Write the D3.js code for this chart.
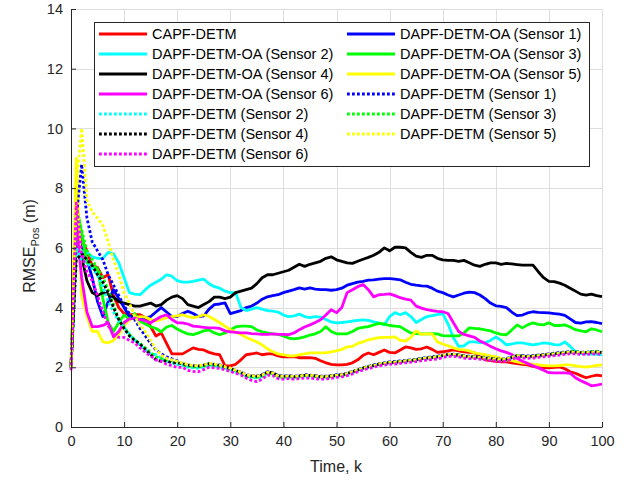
<!DOCTYPE html>
<html lang="en">
<head>
<meta charset="UTF-8">
<title>RMSE Pos</title>
<style>
  * { margin: 0; padding: 0; box-sizing: border-box; }
  body { background: #fff; width: 634px; height: 483px; overflow: hidden; }
  svg { font-family: "Liberation Sans", Arial, Helvetica, sans-serif; }
</style>
</head>
<body>
<svg id="chart" width="634" height="483"></svg>
<script src="https://cdn.jsdelivr.net/npm/d3@7"></script>
<script>
// time steps k = 0..100
const steps = d3.range(0, 101);

const xTicks = [0, 10, 20, 30, 40, 50, 60, 70, 80, 90, 100];
const yTicks = [0, 2, 4, 6, 8, 10, 12, 14];

// solid lines
const capf = [2.0, 6.5, 6.3, 5.9, 5.4, 5.35, 5.0, 5.1, 4.4, 4.0, 3.8,
  3.76, 3.76, 3.76, 3.66, 3.36, 3.05, 3.15, 2.8, 2.45, 2.45,
  2.45, 2.55, 2.65, 2.6, 2.58, 2.5, 2.45, 2.42, 2.05, 2.05,
  2.1, 2.25, 2.42, 2.45, 2.48, 2.42, 2.45, 2.45, 2.38, 2.35,
  2.35, 2.36, 2.32, 2.32, 2.32, 2.3, 2.22, 2.15, 2.1, 2.08,
  2.08, 2.1, 2.15, 2.25, 2.4, 2.48, 2.42, 2.5, 2.58, 2.5,
  2.48, 2.58, 2.68, 2.65, 2.6, 2.62, 2.68, 2.6, 2.5, 2.52,
  2.55, 2.58, 2.55, 2.52, 2.5, 2.48, 2.35, 2.25, 2.22, 2.2,
  2.18, 2.18, 2.15, 2.12, 2.1, 2.08, 2.03, 2.0, 1.99, 1.98,
  2.0, 2.01, 1.95, 1.85, 1.8, 1.72, 1.65, 1.7, 1.74, 1.71];

const oaS1 = [2.0, 6.5, 6.0, 5.6, 5.0, 4.2, 3.7, 4.2, 4.6, 4.3, 4.0,
  3.7, 3.65, 3.6, 3.65, 3.7, 3.85, 4.0, 3.85, 3.7, 3.7,
  3.8, 3.88, 3.8, 3.7, 3.72, 3.95, 4.1, 4.12, 4.16, 3.8,
  3.85, 3.9, 4.0, 4.05, 4.15, 4.28, 4.36, 4.4, 4.43, 4.5,
  4.55, 4.6, 4.66, 4.62, 4.66, 4.62, 4.6, 4.6, 4.58, 4.6,
  4.65, 4.75, 4.8, 4.85, 4.88, 4.92, 4.93, 4.95, 4.97, 4.97,
  4.95, 4.93, 4.85, 4.78, 4.75, 4.73, 4.72, 4.65, 4.55, 4.5,
  4.42, 4.36, 4.42, 4.48, 4.52, 4.5, 4.42, 4.3, 4.15, 4.06,
  4.04, 4.0, 3.85, 3.73, 3.75, 3.82, 3.86, 3.84, 3.83, 3.82,
  3.8, 3.78, 3.74, 3.62, 3.5, 3.48, 3.52, 3.53, 3.5, 3.46];

const oaS2 = [2.0, 6.0, 5.9, 5.85, 5.7, 5.65, 5.65, 5.85, 5.8, 5.5, 5.0,
  4.5, 4.45, 4.43, 4.6, 4.75, 4.85, 4.95, 5.1, 5.05, 4.9,
  4.85, 4.85, 4.88, 4.92, 4.95, 4.8, 4.7, 4.65, 4.55, 4.5,
  4.5, 4.0, 3.9, 3.95, 4.0, 3.95, 3.9, 3.88, 3.85, 3.75,
  3.7, 3.72, 3.78, 3.7, 3.66, 3.7, 3.68, 3.6, 3.52, 3.49,
  3.5, 3.52, 3.55, 3.57, 3.59, 3.57, 3.52, 3.49, 3.42, 3.7,
  3.83, 3.76, 3.83, 3.7, 3.5, 3.6, 3.7, 3.73, 3.76, 3.8,
  3.45, 3.0, 2.7, 2.72, 2.85, 2.85, 2.83, 2.82, 2.9, 3.02,
  2.9, 2.75, 2.78, 2.82, 2.82, 2.78, 2.75, 2.78, 2.82, 2.8,
  2.76, 2.75, 2.85, 2.7, 2.52, 2.46, 2.45, 2.44, 2.43, 2.42];

const oaS3 = [2.0, 7.5, 6.5, 5.5, 5.4, 5.3, 4.3, 3.5, 3.2, 3.5, 3.75,
  3.6, 3.8, 3.55, 3.45, 3.36, 3.3, 3.19, 3.35, 3.4, 3.28,
  3.19, 3.12, 3.09, 3.15, 3.22, 3.25, 3.15, 3.09, 3.15, 3.25,
  3.35, 3.38, 3.38, 3.36, 3.25, 3.19, 3.15, 3.12, 3.1, 3.05,
  2.98, 2.95, 2.98, 3.02, 3.08, 3.12, 3.2, 3.36, 3.2, 3.12,
  3.12, 3.12, 3.2, 3.3, 3.34, 3.36, 3.42, 3.47, 3.45, 3.4,
  3.38, 3.36, 3.25, 3.15, 3.13, 3.12, 3.12, 3.13, 3.12, 3.06,
  3.05, 3.05, 3.05, 3.15, 3.32, 3.3, 3.29, 3.25, 3.22, 3.15,
  3.1, 3.09, 3.25, 3.42, 3.32, 3.42, 3.49, 3.44, 3.42, 3.49,
  3.4, 3.4, 3.42, 3.35, 3.26, 3.22, 3.19, 3.29, 3.25, 3.19];

const oaS4 = [2.0, 6.2, 5.7, 4.9, 4.5, 4.4, 4.5, 4.45, 4.35, 4.2, 4.15,
  4.1, 4.05, 4.05, 4.1, 4.15, 4.05, 4.1, 4.25, 4.35, 4.4,
  4.3, 4.1, 4.05, 4.0, 4.1, 4.2, 4.35, 4.35, 4.3, 4.35,
  4.5, 4.55, 4.6, 4.65, 4.8, 5.0, 5.1, 5.1, 5.15, 5.2,
  5.25, 5.35, 5.45, 5.38, 5.45, 5.5, 5.55, 5.65, 5.7, 5.6,
  5.55, 5.5, 5.48, 5.55, 5.62, 5.68, 5.75, 5.85, 6.0, 5.9,
  6.02, 6.02, 6.0, 5.85, 5.72, 5.68, 5.75, 5.75, 5.65, 5.6,
  5.58, 5.58, 5.55, 5.58, 5.5, 5.42, 5.38, 5.45, 5.5, 5.5,
  5.45, 5.48, 5.46, 5.44, 5.42, 5.42, 5.42, 5.2, 5.0, 4.88,
  4.87, 4.82, 4.75, 4.65, 4.55, 4.45, 4.42, 4.45, 4.4, 4.37];

const oaS5 = [2.0, 9.0, 4.4, 3.7, 3.2, 3.2, 2.85, 2.82, 2.9, 3.1, 3.4,
  3.6, 3.65, 3.7, 3.68, 3.6, 3.55, 3.6, 3.66, 3.7, 3.72,
  3.76, 3.7, 3.66, 3.7, 3.76, 3.7, 3.6, 3.49, 3.38, 3.26,
  3.18, 3.1, 3.0, 2.92, 2.85, 2.75, 2.62, 2.52, 2.45, 2.42,
  2.38, 2.38, 2.42, 2.45, 2.48, 2.48, 2.48, 2.48, 2.52, 2.55,
  2.6, 2.68, 2.7, 2.8, 2.85, 2.92, 2.96, 2.99, 3.0, 3.0,
  3.02, 2.9, 2.88, 3.0, 3.22, 3.1, 3.12, 3.12, 2.85, 2.78,
  2.72, 2.65, 2.6, 2.58, 2.55, 2.48, 2.45, 2.42, 2.38, 2.35,
  2.3, 2.26, 2.22, 2.18, 2.15, 2.13, 2.1, 2.08, 2.06, 2.05,
  2.05, 2.06, 2.08, 2.08, 2.05, 2.02, 2.01, 2.03, 2.06, 2.08];

const oaS6 = [2.0, 6.8, 5.0, 3.85, 3.36, 3.36, 3.4, 3.49, 3.02, 3.2, 3.5,
  3.62, 3.64, 3.6, 3.55, 3.49, 3.6, 3.7, 3.76, 3.6, 3.49,
  3.49, 3.45, 3.38, 3.36, 3.34, 3.32, 3.32, 3.3, 3.22, 3.19,
  3.17, 3.15, 3.15, 3.13, 3.12, 3.1, 3.1, 3.12, 3.1, 3.1,
  3.09, 3.15, 3.26, 3.35, 3.42, 3.5, 3.59, 3.75, 3.93, 3.83,
  4.0, 4.5, 4.6, 4.7, 4.77, 4.6, 4.36, 4.43, 4.44, 4.46,
  4.4, 4.33, 4.28, 4.25, 4.05, 3.98, 3.93, 3.9, 3.87, 3.86,
  3.8, 3.5, 3.2, 3.1, 3.05, 3.0, 2.88, 2.8, 2.7, 2.62,
  2.55, 2.5, 2.43, 2.3, 2.2, 2.13, 2.05, 1.98, 1.9, 1.82,
  1.81, 1.81, 1.81, 1.8, 1.65, 1.55, 1.47, 1.38, 1.4, 1.44];

// dotted lines
const dS1 = [2.0, 7.0, 8.8, 7.0, 6.2, 5.9, 5.6, 5.1, 4.75, 4.4, 4.05,
  3.8, 3.6, 3.3, 3.05, 2.8, 2.58, 2.45, 2.35, 2.28, 2.22,
  2.12, 2.08, 2.05, 2.04, 2.08, 2.12, 2.10, 2.08, 2.02, 1.96,
  1.90, 1.84, 1.75, 1.72, 1.70, 1.76, 1.85, 1.82, 1.72, 1.70,
  1.72, 1.70, 1.72, 1.75, 1.74, 1.72, 1.70, 1.70, 1.72, 1.75,
  1.77, 1.80, 1.86, 1.92, 1.98, 2.03, 2.08, 2.12, 2.15, 2.18,
  2.19, 2.21, 2.23, 2.25, 2.27, 2.30, 2.33, 2.35, 2.37, 2.40,
  2.44, 2.44, 2.42, 2.38, 2.37, 2.36, 2.35, 2.33, 2.30, 2.28,
  2.27, 2.29, 2.35, 2.40, 2.39, 2.38, 2.39, 2.41, 2.43, 2.45,
  2.47, 2.49, 2.51, 2.53, 2.53, 2.51, 2.50, 2.52, 2.53, 2.50];

const dS2 = [2.0, 6.0, 5.6, 5.5, 5.3, 5.1, 4.7, 4.2, 3.85, 3.55, 3.35,
  3.1, 2.92, 2.75, 2.58, 2.45, 2.42, 2.3, 2.2, 2.15, 2.1,
  2.06, 2.00, 1.98, 1.97, 2.00, 2.05, 2.03, 2.00, 1.95, 1.90,
  1.84, 1.78, 1.68, 1.66, 1.64, 1.68, 1.78, 1.76, 1.66, 1.64,
  1.66, 1.64, 1.66, 1.68, 1.68, 1.66, 1.64, 1.65, 1.67, 1.69,
  1.71, 1.75, 1.81, 1.88, 1.94, 1.98, 2.03, 2.08, 2.10, 2.13,
  2.14, 2.16, 2.18, 2.20, 2.22, 2.26, 2.28, 2.30, 2.32, 2.36,
  2.40, 2.40, 2.38, 2.34, 2.32, 2.32, 2.30, 2.28, 2.26, 2.24,
  2.22, 2.24, 2.30, 2.36, 2.34, 2.33, 2.34, 2.36, 2.38, 2.40,
  2.42, 2.44, 2.46, 2.48, 2.48, 2.46, 2.46, 2.48, 2.48, 2.46];

const dS3 = [2.0, 7.3, 6.6, 5.9, 5.6, 5.3, 5.0, 4.6, 4.1, 3.6, 3.35,
  3.1, 2.92, 2.8, 2.65, 2.5, 2.35, 2.3, 2.25, 2.22, 2.2,
  2.08, 2.04, 2.02, 2.00, 2.04, 2.08, 2.06, 2.03, 1.98, 1.93,
  1.86, 1.80, 1.70, 1.68, 1.66, 1.70, 1.80, 1.78, 1.68, 1.66,
  1.68, 1.66, 1.69, 1.71, 1.71, 1.69, 1.67, 1.67, 1.69, 1.71,
  1.74, 1.78, 1.85, 1.91, 1.97, 2.02, 2.06, 2.10, 2.13, 2.16,
  2.17, 2.19, 2.21, 2.23, 2.25, 2.29, 2.31, 2.33, 2.35, 2.39,
  2.43, 2.43, 2.41, 2.37, 2.35, 2.35, 2.33, 2.31, 2.29, 2.27,
  2.25, 2.27, 2.33, 2.39, 2.37, 2.36, 2.37, 2.39, 2.41, 2.43,
  2.45, 2.47, 2.49, 2.52, 2.52, 2.50, 2.50, 2.52, 2.52, 2.50];

const dS4 = [2.0, 5.6, 5.8, 5.6, 5.4, 5.1, 4.85, 4.5, 4.0, 3.6, 3.3,
  3.05, 2.9, 2.78, 2.6, 2.42, 2.25, 2.2, 2.22, 2.15, 2.15,
  2.12, 2.07, 2.05, 2.04, 2.07, 2.12, 2.10, 2.06, 2.01, 1.96,
  1.89, 1.83, 1.73, 1.71, 1.70, 1.74, 1.84, 1.82, 1.72, 1.70,
  1.71, 1.69, 1.71, 1.73, 1.73, 1.71, 1.69, 1.69, 1.71, 1.73,
  1.75, 1.79, 1.85, 1.91, 1.97, 2.01, 2.06, 2.11, 2.13, 2.16,
  2.17, 2.19, 2.21, 2.23, 2.25, 2.29, 2.31, 2.33, 2.35, 2.39,
  2.43, 2.43, 2.41, 2.37, 2.35, 2.35, 2.33, 2.31, 2.29, 2.27,
  2.25, 2.27, 2.33, 2.39, 2.37, 2.36, 2.37, 2.39, 2.41, 2.43,
  2.45, 2.47, 2.49, 2.51, 2.51, 2.49, 2.49, 2.51, 2.51, 2.49];

const dS5 = [2.0, 8.0, 10.0, 7.6, 7.2, 7.0, 6.75, 6.2, 5.6, 5.1, 4.5,
  4.15, 3.7, 3.4, 3.2, 2.9, 2.6, 2.4, 2.3, 2.25, 2.2,
  2.14, 2.09, 2.06, 2.05, 2.08, 2.13, 2.11, 2.07, 2.02, 1.97,
  1.90, 1.84, 1.74, 1.72, 1.70, 1.74, 1.83, 1.81, 1.71, 1.69,
  1.71, 1.69, 1.71, 1.73, 1.73, 1.71, 1.69, 1.69, 1.71, 1.73,
  1.75, 1.79, 1.85, 1.91, 1.97, 2.01, 2.06, 2.11, 2.13, 2.16,
  2.17, 2.19, 2.21, 2.23, 2.25, 2.29, 2.31, 2.33, 2.35, 2.39,
  2.43, 2.43, 2.41, 2.37, 2.35, 2.35, 2.33, 2.31, 2.29, 2.27,
  2.25, 2.27, 2.33, 2.39, 2.37, 2.36, 2.37, 2.39, 2.41, 2.43,
  2.45, 2.47, 2.49, 2.51, 2.51, 2.49, 2.49, 2.51, 2.51, 2.49];

const dS6 = [1.9, 7.5, 5.8, 5.2, 4.9, 4.4, 3.85, 3.4, 3.1, 3.0, 3.0,
  2.9, 2.82, 2.65, 2.5, 2.38, 2.25, 2.2, 2.1, 2.05, 2.0,
  2.00, 1.90, 1.86, 1.85, 1.92, 2.00, 1.98, 1.96, 1.92, 1.86,
  1.80, 1.74, 1.64, 1.56, 1.52, 1.60, 1.74, 1.72, 1.62, 1.60,
  1.62, 1.60, 1.62, 1.64, 1.64, 1.62, 1.60, 1.61, 1.63, 1.66,
  1.68, 1.72, 1.78, 1.85, 1.91, 1.96, 2.00, 2.05, 2.07, 2.10,
  2.11, 2.13, 2.15, 2.17, 2.19, 2.22, 2.24, 2.26, 2.28, 2.32,
  2.37, 2.37, 2.35, 2.31, 2.29, 2.29, 2.27, 2.25, 2.23, 2.21,
  2.19, 2.21, 2.27, 2.33, 2.31, 2.30, 2.31, 2.33, 2.35, 2.37,
  2.39, 2.41, 2.43, 2.45, 2.45, 2.43, 2.43, 2.45, 2.45, 2.43];

// legend order (row by row, two columns) = drawing order
const series = [
  { name: "CAPF-DETM", values: capf, color: "#ff0000", dotted: false },
  { name: "DAPF-DETM-OA (Sensor 1)", values: oaS1, color: "#0000ff", dotted: false },
  { name: "DAPF-DETM-OA (Sensor 2)", values: oaS2, color: "#00ffff", dotted: false },
  { name: "DAPF-DETM-OA (Sensor 3)", values: oaS3, color: "#00ff00", dotted: false },
  { name: "DAPF-DETM-OA (Sensor 4)", values: oaS4, color: "#000000", dotted: false },
  { name: "DAPF-DETM-OA (Sensor 5)", values: oaS5, color: "#ffff00", dotted: false },
  { name: "DAPF-DETM-OA (Sensor 6)", values: oaS6, color: "#ff00ff", dotted: false },
  { name: "DAPF-DETM (Sensor 1)", values: dS1, color: "#0000ff", dotted: true },
  { name: "DAPF-DETM (Sensor 2)", values: dS2, color: "#00ffff", dotted: true },
  { name: "DAPF-DETM (Sensor 3)", values: dS3, color: "#00ff00", dotted: true },
  { name: "DAPF-DETM (Sensor 4)", values: dS4, color: "#000000", dotted: true },
  { name: "DAPF-DETM (Sensor 5)", values: dS5, color: "#ffff00", dotted: true },
  { name: "DAPF-DETM (Sensor 6)", values: dS6, color: "#ff00ff", dotted: true }
];

const svg = d3.select("#chart");
const x = d3.scaleLinear().domain([0, 100]).range([71, 602]);
const y = d3.scaleLinear().domain([0, 14]).range([427, 9]);
const axisColor = "#262626";
const lw = 2.8;

// grid
const grid = svg.append("g").attr("stroke", "#dedede").attr("stroke-width", 1);
grid.selectAll("line.gx").data(xTicks.slice(1)).join("line")
  .attr("x1", d => Math.round(x(d)) + 0.5).attr("x2", d => Math.round(x(d)) + 0.5)
  .attr("y1", y(0)).attr("y2", y(14));
grid.selectAll("line.gy").data(yTicks.slice(1)).join("line")
  .attr("y1", d => Math.round(y(d)) + 0.5).attr("y2", d => Math.round(y(d)) + 0.5)
  .attr("x1", x(0)).attr("x2", x(100));

// lines
const line = d3.line().x((d, i) => x(steps[i])).y(d => y(d));
svg.append("g").selectAll("path").data(series).join("path")
  .attr("d", d => line(d.values))
  .attr("fill", "none")
  .attr("stroke", d => d.color)
  .attr("stroke-width", lw)
  .attr("stroke-dasharray", d => d.dotted ? "2.8,2.2" : null)
  .attr("stroke-linejoin", "round");

// axes
const xAxis = svg.append("g").attr("transform", `translate(0,${y(0)})`)
  .call(d3.axisBottom(x).tickValues(xTicks).tickSizeInner(-5).tickSizeOuter(0).tickPadding(9));
const yAxis = svg.append("g").attr("transform", `translate(${x(0)},0)`)
  .call(d3.axisLeft(y).tickValues(yTicks).tickSizeInner(-5).tickSizeOuter(0).tickPadding(8));
[xAxis, yAxis].forEach(a => {
  a.select(".domain").attr("stroke", axisColor);
  a.selectAll(".tick line").attr("stroke", axisColor);
  a.selectAll(".tick text").attr("fill", axisColor).attr("font-size", 14.5)
    .attr("font-family", "Liberation Sans, Arial, sans-serif");
});

// axis labels
svg.append("text").attr("x", 336).attr("y", 472).attr("text-anchor", "middle")
  .attr("font-size", 16).attr("fill", axisColor).text("Time, k");
const yl = svg.append("text").attr("transform", "translate(35,246) rotate(-90)")
  .attr("text-anchor", "middle").attr("font-size", 16).attr("fill", axisColor);
yl.append("tspan").text("RMSE");
yl.append("tspan").attr("font-size", 11).attr("dy", 4).text("Pos");
yl.append("tspan").attr("dy", -4).text(" (m)");

// legend
const lg = svg.append("g");
lg.append("rect").attr("x", 94.5).attr("y", 22.5).attr("width", 495).attr("height", 144)
  .attr("fill", "#fff").attr("stroke", axisColor).attr("stroke-width", 1);
const item = lg.selectAll("g.item").data(series).join("g")
  .attr("transform", (d, i) => `translate(${i % 2 ? 347 : 99},${34 + Math.floor(i / 2) * 20})`);
item.append("line").attr("x1", 0).attr("x2", 48).attr("y1", 0).attr("y2", 0)
  .attr("stroke", d => d.color).attr("stroke-width", lw)
  .attr("stroke-dasharray", d => d.dotted ? "2.8,2.2" : null);
item.append("text").attr("x", 53).attr("y", 5).attr("font-size", 14.5).attr("fill", "#000")
  .text(d => d.name);
</script>
</body>
</html>
